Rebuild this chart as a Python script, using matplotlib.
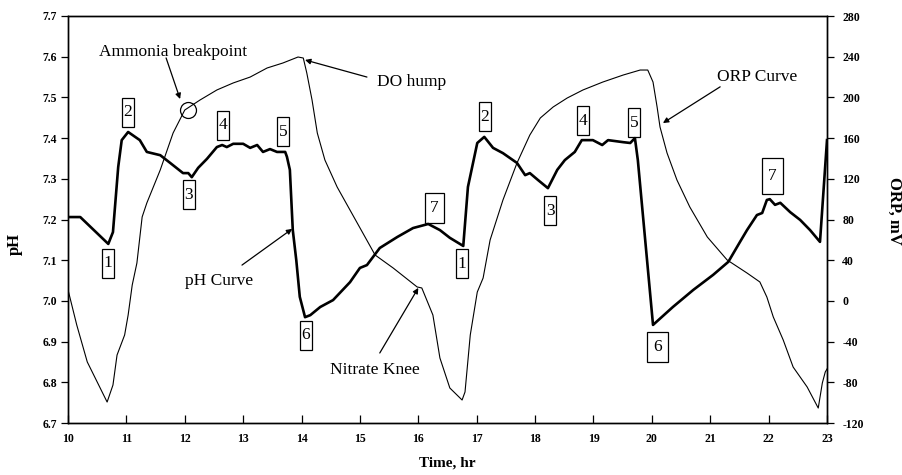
"""
pH and ORP profiles over two SBR cycles (10-23 hr), with the
Ammonia breakpoint / DO hump / Nitrate knee call-outs.
"""

import matplotlib
matplotlib.use('Agg')
import matplotlib.pyplot as plt
from matplotlib.patches import Rectangle

SERIF = ['Liberation Serif', 'DejaVu Serif']
plt.rcParams['font.family'] = SERIF

# ── Data ──────────────────────────────────────────────────────────────────────
time_ph = [10.00, 10.21, 10.69, 10.77, 10.86, 10.92, 11.03, 11.23, 11.35, 11.58,
           11.75, 11.97, 12.06, 12.12, 12.23, 12.38, 12.55, 12.64, 12.72, 12.83,
           13.00, 13.12, 13.24, 13.34, 13.46, 13.58, 13.72, 13.75, 13.80, 13.85,
           13.91, 13.97, 14.06, 14.15, 14.32, 14.54, 14.83, 15.00, 15.12, 15.34,
           15.64, 15.91, 16.17, 16.37, 16.54, 16.77, 16.85, 17.01, 17.13, 17.28,
           17.45, 17.69, 17.83, 17.91, 18.05, 18.22, 18.38, 18.51, 18.68, 18.80,
           18.99, 19.15, 19.25, 19.51, 19.63, 19.71, 19.76, 20.02, 20.36, 20.71,
           21.05, 21.31, 21.51, 21.63, 21.80, 21.89, 21.97, 22.02, 22.11, 22.20,
           22.37, 22.54, 22.71, 22.88, 23.00]
ph_vals = [7.206, 7.206, 7.140, 7.169, 7.329, 7.395, 7.415, 7.395, 7.366, 7.358,
           7.339, 7.314, 7.314, 7.304, 7.327, 7.349, 7.378, 7.383, 7.378, 7.386,
           7.386, 7.376, 7.383, 7.366, 7.373, 7.366, 7.366, 7.354, 7.322, 7.174,
           7.100, 7.010, 6.960, 6.965, 6.985, 7.002, 7.046, 7.081, 7.088, 7.130,
           7.157, 7.179, 7.189, 7.174, 7.155, 7.135, 7.280, 7.388, 7.403, 7.376,
           7.363, 7.339, 7.309, 7.314, 7.297, 7.277, 7.322, 7.346, 7.366, 7.395,
           7.395, 7.383, 7.395, 7.390, 7.388, 7.400, 7.346, 6.941, 6.985, 7.027,
           7.064, 7.096, 7.145, 7.174, 7.211, 7.216, 7.248, 7.250, 7.236, 7.241,
           7.218, 7.199, 7.174, 7.145, 7.395]

time_orp = [9.98, 10.15, 10.33, 10.50, 10.67, 10.77, 10.84, 10.97, 11.03, 11.10,
            11.18, 11.27, 11.35, 11.58, 11.80, 12.00, 12.26, 12.55, 12.83, 13.12,
            13.41, 13.68, 13.94, 14.03, 14.09, 14.18, 14.27, 14.40, 14.61, 14.83,
            15.05, 15.26, 15.57, 15.98, 16.06, 16.25, 16.37, 16.54, 16.75, 16.80,
            16.89, 17.01, 17.11, 17.23, 17.45, 17.69, 17.91, 18.09, 18.31, 18.55,
            18.82, 19.16, 19.51, 19.80, 19.93, 20.02, 20.09, 20.14, 20.26, 20.43,
            20.65, 20.95, 21.29, 21.63, 21.85, 21.97, 22.08, 22.25, 22.42, 22.66,
            22.85, 22.92, 22.97, 23.02]
orp_vals = [15.6, -23.7, -60.0, -79.7, -99.4, -82.7, -53.2, -33.5, -13.9, 15.6,
            37.2, 82.5, 96.2, 128.7, 165.0, 187.6, 197.4, 207.3, 214.2, 220.0,
            228.9, 233.8, 239.7, 238.7, 224.0, 197.4, 165.0, 138.5, 111.9, 89.3,
            66.7, 45.1, 32.3, 13.7, 12.7, -13.9, -56.1, -85.6, -97.4, -89.5,
            -33.5, 8.7, 22.5, 59.9, 99.2, 135.5, 163.0, 179.8, 190.6, 199.4,
            207.3, 215.1, 222.0, 226.9, 226.9, 215.1, 190.6, 170.9, 145.4, 118.8,
            92.3, 62.8, 40.2, 27.4, 18.6, 3.8, -15.8, -38.4, -65.0, -84.6,
            -105.3, -80.7, -69.9, -65.0]

x_ticks = list(range(10, 24))
ph_ticks = [6.7, 6.8, 6.9, 7.0, 7.1, 7.2, 7.3, 7.4, 7.5, 7.6, 7.7]
orp_ticks = [-120, -80, -40, 0, 40, 80, 120, 160, 200, 240, 280]

# phase numbers on the pH curve
phase_labels = ['1', '2', '3', '4', '5', '6', '7', '1', '2', '3', '4', '5', '6', '7']

# ── Layout ────────────────────────────────────────────────────────────────────
W, H = 903, 475
L_PX, R_PX, T_PX, B_PX = 68, 827, 16, 423

fig = plt.figure(figsize=(W / 100, H / 100), dpi=100)
ax = fig.add_axes([L_PX / W, 1 - B_PX / H, (R_PX - L_PX) / W, (B_PX - T_PX) / H])
ax2 = ax.twinx()

# data units per pixel (for the phase-number boxes)
DX = 13 / (R_PX - L_PX)
DY = 1.0 / (B_PX - T_PX)

# ── Curves ────────────────────────────────────────────────────────────────────
ax.plot(time_ph, ph_vals, color='black', lw=1.9, solid_joinstyle='round', zorder=4)
ax2.plot(time_orp, orp_vals, color='black', lw=0.8, zorder=3)

ax.set_xlim(10, 23)
ax.set_ylim(6.7, 7.7)
ax2.set_ylim(-120, 280)

# ── Phase number boxes: (t, pH, w_px, h_px) ───────────────────────────────────
box_pos = [
    (10.677, 7.093, 12, 29), (11.028, 7.463, 12, 29), (12.064, 7.261, 12, 29),
    (12.655, 7.431, 12, 29), (13.691, 7.415, 12, 29), (14.076, 6.915, 12, 29),
    (16.277, 7.228, 19, 30), (16.748, 7.091, 12, 29), (17.142, 7.453, 12, 29),
    (18.256, 7.222, 12, 29), (18.821, 7.443, 12, 29), (19.694, 7.438, 12, 29),
    (20.097, 6.887, 21, 30), (22.067, 7.307, 21, 36),
]
for lbl, (t, p, wpx, hpx) in zip(phase_labels, box_pos):
    w, h = wpx * DX, hpx * DY
    ax.add_patch(Rectangle((t - w / 2, p - h / 2), w, h, fill=False,
                           ec='black', lw=0.9, zorder=5))
    ax.text(t, p, lbl, ha='center', va='center', fontsize=12.5, zorder=6)

# ── Call-outs ─────────────────────────────────────────────────────────────────
arrow = dict(arrowstyle='-|>', color='black', lw=0.9, mutation_scale=8,
             shrinkA=0, shrinkB=0)
FS = 12.5

ax.plot([12.06], [7.469], marker='o', ms=11.5, mfc='none', mec='black',
        mew=0.9, zorder=5)
ax.text(11.80, 7.612, 'Ammonia breakpoint', ha='center', va='center', fontsize=FS)
ax.annotate('', xy=(11.92, 7.496), xytext=(11.68, 7.597), arrowprops=arrow)

ax.text(15.29, 7.538, 'DO hump', ha='left', va='center', fontsize=FS)
ax.annotate('', xy=(14.06, 7.592), xytext=(15.12, 7.550), arrowprops=arrow)

ax.text(21.12, 7.550, 'ORP Curve', ha='left', va='center', fontsize=FS)
ax.annotate('', xy=(20.19, 7.437), xytext=(21.17, 7.526), arrowprops=arrow)

ax.text(12.00, 7.049, 'pH Curve', ha='left', va='center', fontsize=FS)
ax.annotate('', xy=(13.84, 7.177), xytext=(12.98, 7.088), arrowprops=arrow)

ax.text(14.49, 6.830, 'Nitrate Knee', ha='left', va='center', fontsize=FS)
ax.annotate('', xy=(16.00, 7.032), xytext=(15.34, 6.872), arrowprops=arrow)

# ── Axes styling ──────────────────────────────────────────────────────────────
ax.set_xticks(x_ticks)
ax.set_xticklabels([str(v) for v in x_ticks])
ax.set_yticks(ph_ticks)
ax.set_yticklabels([f'{v:.1f}' for v in ph_ticks])
ax2.set_yticks(orp_ticks)
ax2.set_yticklabels([str(v) for v in orp_ticks])

ax.tick_params(axis='x', direction='in', length=6, width=0.9, pad=7,
               labelsize=8.5)
ax.tick_params(axis='y', direction='out', length=5, width=0.9, pad=3,
               labelsize=8.5)
ax2.tick_params(axis='y', direction='out', length=5, width=0.9, pad=6,
                labelsize=8.5)
for lab in ax.get_xticklabels() + ax.get_yticklabels() + ax2.get_yticklabels():
    lab.set_fontweight('bold')

for a in (ax, ax2):
    for sp in a.spines.values():
        sp.set_linewidth(1.0)

ax.set_xlabel('Time, hr', fontsize=11, fontweight='bold')
ax.xaxis.set_label_coords(0.5, -0.082)
ax.set_ylabel('pH', fontsize=12, fontweight='bold')
ax.yaxis.set_label_coords(-0.06, 0.44)
ax2.set_ylabel('ORP, mV', fontsize=12, fontweight='bold', rotation=270,
               va='center')
ax2.yaxis.set_label_coords(1.088, 0.52)

fig.savefig('out.png', dpi=100, facecolor='white')
plt.close(fig)
